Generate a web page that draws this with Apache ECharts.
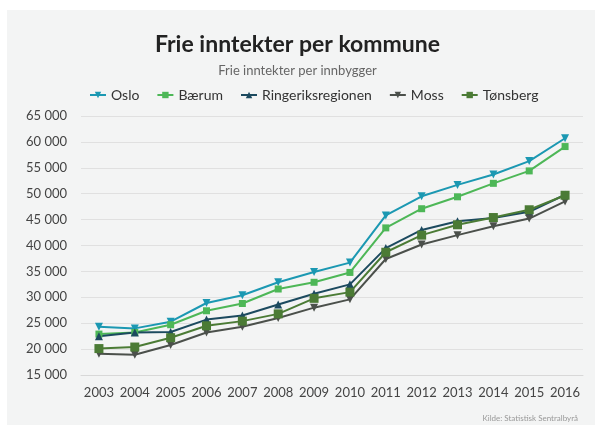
<!DOCTYPE html>
<html>
<head>
<meta charset="utf-8">
<script src="https://cdn.jsdelivr.net/npm/echarts@6/dist/echarts.min.js"></script>
</head>
<body style="margin:0;background:#fff">
<div id="main" style="width:595px;height:425px"></div>
<script>
var years = ['2003','2004','2005','2006','2007','2008','2009','2010','2011','2012','2013','2014','2015','2016'];
var oslo      = [24300, 24000, 25300, 28900, 30400, 32900, 34900, 36700, 45800, 49500, 51700, 53700, 56300, 60700];
var baerum    = [22900, 23200, 24700, 27400, 28800, 31600, 32900, 34800, 43400, 47100, 49400, 52000, 54400, 59100];
var ringerike = [22500, 23200, 23300, 25700, 26500, 28600, 30700, 32500, 39500, 43000, 44700, 45300, 46500, 49800];
var moss      = [19100, 18900, 20800, 23200, 24300, 26000, 28000, 29600, 37400, 40200, 42000, 43700, 45200, 48500];
var tonsberg  = [20100, 20400, 22200, 24500, 25400, 26800, 29800, 31000, 38700, 42000, 44000, 45400, 46900, 49700];

var font = 'Lato';
function line(name, data, color, symbol, size, rotate) {
  return {
    name: name, type: 'line', data: data,
    symbol: symbol, symbolSize: size, symbolRotate: rotate || 0,
    lineStyle: { width: 2, color: color },
    itemStyle: { color: color },
    animation: false
  };
}

var chart = echarts.init(document.getElementById('main'));
chart.setOption({
  backgroundColor: '#fff',
  textStyle: { fontFamily: font },
  graphic: [
    { type: 'rect', z: -10, shape: { x: 7, y: 10, width: 588, height: 415 }, style: { fill: '#f3f4f4' } }
  ],
  title: [
    { text: 'Frie inntekter per kommune', left: 'center', top: 28,
      textStyle: { fontFamily: font, fontSize: 23, fontWeight: 'bold', color: '#222' } },
    { text: 'Frie inntekter per innbygger', left: 'center', top: 59,
      textStyle: { fontFamily: font, fontSize: 13, fontWeight: 'normal', color: '#666' } },
    { text: 'Kilde: Statistisk Sentralbyrå', right: 12, top: 409,
      textStyle: { fontFamily: font, fontSize: 8, fontWeight: 'normal', color: '#999' } }
  ],
  legend: {
    top: 83, left: 84,
    itemWidth: 16, itemHeight: 8, itemGap: 17,
    textStyle: { fontFamily: font, fontSize: 14, color: '#333' },
    data: ['Oslo', 'Bærum', 'Ringeriksregionen', 'Moss', 'Tønsberg']
  },
  grid: { left: 81, right: 12, top: 116, bottom: 50 },
  xAxis: {
    type: 'category', data: years, boundaryGap: true,
    axisLine: { lineStyle: { color: '#d8d8d8' } },
    axisTick: { lineStyle: { color: '#d8d8d8' }, length: 4 },
    axisLabel: { color: '#444', fontSize: 13, margin: 11, fontFamily: font, interval: 0 }
  },
  yAxis: {
    type: 'value', min: 15000, max: 65000, interval: 5000,
    axisLine: { show: false }, axisTick: { show: false },
    splitLine: { lineStyle: { color: '#e0e0e0' } },
    axisLabel: {
      color: '#444', fontSize: 13, margin: 14, fontFamily: font,
      formatter: function (v) { return String(v).replace(/(\d)(?=(\d{3})+$)/g, '$1 '); }
    }
  },
  series: [
    line('Oslo', oslo, '#1b98b2', 'triangle', 8, 180),
    line('Bærum', baerum, '#4db757', 'rect', 7),
    line('Ringeriksregionen', ringerike, '#1c4a5f', 'triangle', 8),
    line('Moss', moss, '#4b504b', 'triangle', 8, 180),
    line('Tønsberg', tonsberg, '#4b7b35', 'rect', 9)
  ]
});
</script>
</body>
</html>
